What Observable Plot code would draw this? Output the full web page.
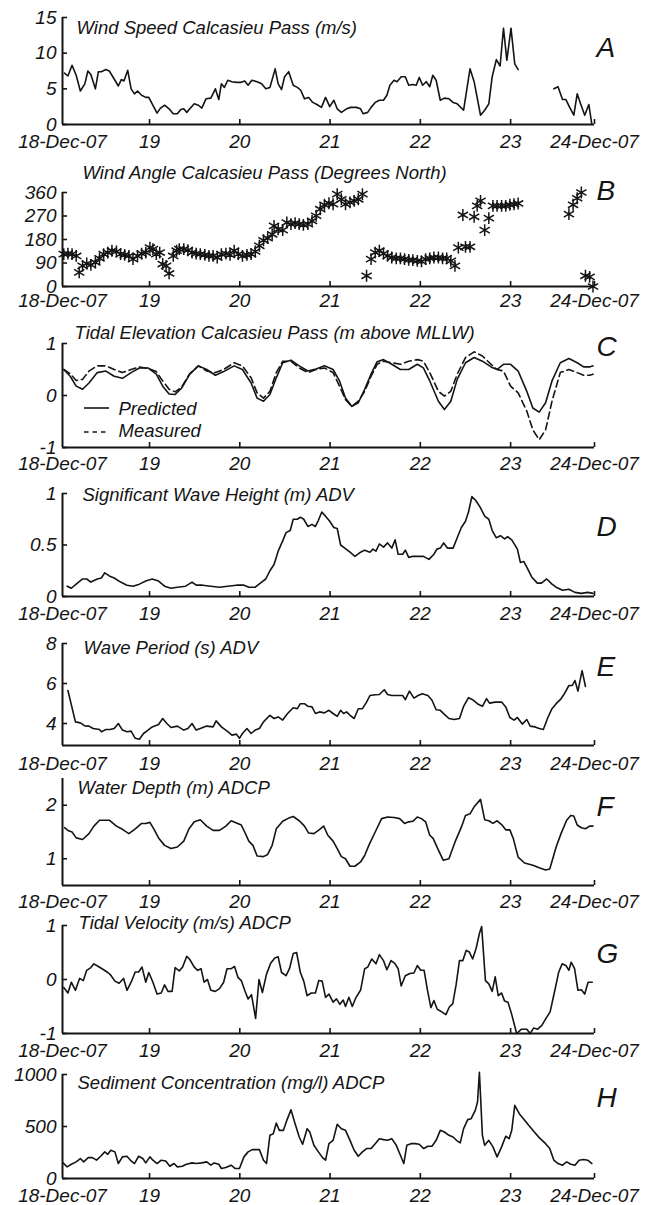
<!DOCTYPE html>
<html><head><meta charset="utf-8">
<script src="https://cdn.jsdelivr.net/npm/d3@7"></script>
<script src="https://cdn.jsdelivr.net/npm/@observablehq/plot@0.6"></script>
<style>
html,body{margin:0;padding:0;background:#fff;}
#fig{position:relative;width:657px;height:1205px;overflow:hidden;}
#fig svg{position:absolute;left:0;}
</style></head><body><div id="fig"></div>
<script>
// ---- x axis (hours since 18-Dec-07 00:00) ----
const xTickHours = [0.86, 24, 48, 72, 96, 120, 142.3];
const xTickLabels = ["18-Dec-07", "19", "20", "21", "22", "23", "24-Dec-07"];

// ---- A: wind speed (m/s) ----
const windHours = [1.4,2.3,3.4,4.5,5.6,6.8,7.6,8.4,9.6,10.4,11.2,12.4,13.3,14.0,14.8,15.7,16.5,17.2,18.2,19.1,20.0,20.8,21.9,23.0,23.8,24.7,26.0,26.9,28.0,29.2,30.3,31.4,32.3,33.1,33.9,34.7,35.9,37.0,37.9,39.0,40.3,41.5,42.4,43.1,43.9,44.8,45.9,47.1,48.2,49.3,50.2,51.2,52.6,53.8,54.9,56.0,57.4,58.2,59.1,59.9,61.0,62.2,63.3,64.2,65.2,66.3,67.4,68.5,69.7,70.8,71.9,73.0,73.9,75.0,76.4,77.5,79.0,80.1,80.8,82.0,82.9,84.0,85.1,86.2,87.1,87.9,89.0,89.8,90.9,92.0,92.9,94.0,94.9,95.7,96.6,97.6,98.5,99.3,100.2,101.3,102.4,103.6,104.7,105.8,107.5,109.2,110.3,112.0,113.1,114.2,115.1,116.2,117.2,118.1,119.0,120.1,121.1,122.0,126,131.5,132.6,133.8,134.7,135.7,136.8,137.7,138.6,139.7,140.8,141.6];
const windSpeed = [7.2,6.8,8.3,6.9,4.7,5.7,7.5,7.0,5.0,7.4,7.4,7.7,7.5,6.9,6.2,5.4,6.3,6.1,7.6,5.0,4.3,4.7,4.1,3.8,3.8,2.9,1.6,2.3,2.7,2.2,1.5,1.5,2.1,2.2,1.7,2.2,2.9,2.7,2.3,3.6,3.7,5.0,3.5,5.7,5.2,6.2,6.0,5.9,5.9,6.1,5.5,6.2,6.0,5.7,5.0,5.2,7.8,5.7,4.9,6.7,7.4,5.5,5.2,4.8,3.6,3.8,3.1,2.8,2.4,3.8,2.5,3.4,2.2,1.7,2.2,2.4,2.4,2.2,1.5,1.7,2.4,3.1,3.4,3.4,4.1,5.5,6.2,6.0,6.7,6.7,5.5,5.6,5.5,6.6,5.5,6.0,5.3,6.9,6.2,3.4,3.7,3.6,3.1,2.9,2.0,7.8,6.0,1.3,2.0,2.9,6.7,9.1,8.2,13.5,9.0,13.5,8.5,7.7,null,5.0,5.3,3.5,3.5,2.4,1.3,4.3,2.9,1.3,2.8,0];

// ---- B: wind angle (degrees north) ----
const angleHours = [1.2,2.3,3.4,4.5,5.3,6.2,7.3,8.4,9.6,10.7,11.8,12.9,14.0,15.2,16.3,17.4,18.5,19.6,20.8,21.9,23.0,24.1,24.9,25.8,26.7,27.5,28.4,29.2,30.3,31.2,31.9,33.1,34.2,35.3,36.4,37.5,38.7,39.8,40.9,42.0,43.1,44.3,45.4,46.5,47.6,48.7,49.9,51.0,52.1,53.2,54.3,55.4,56.6,57.1,58.2,59.4,60.5,61.6,62.7,63.8,64.9,66.1,67.2,68.3,69.4,70.5,71.7,72.8,73.9,75.0,76.1,77.3,78.4,79.5,80.6,81.7,82.9,84.0,85.1,86.2,87.3,88.4,89.6,90.7,91.8,92.9,94.0,95.2,96.3,97.4,98.5,99.6,100.8,101.9,103.0,104.1,105.2,106.1,107.3,108.0,109.2,110.3,111.1,112.0,113.1,114.2,115.3,116.4,117.6,118.7,119.8,120.9,122.0,135.5,136.6,137.7,138.8,139.9,141.0,141.9];
const windAngle = [124,126,124,117,54,79,88,83,92,108,124,130,137,134,124,121,117,105,117,126,130,149,143,124,130,86,79,50,117,137,143,143,139,130,126,124,121,117,117,111,124,126,121,137,124,117,121,124,134,156,177,185,200,232,219,216,245,239,243,239,236,239,251,271,296,313,319,315,354,334,315,322,328,334,354,41,105,130,137,126,117,111,108,108,105,102,101,98,96,105,108,111,111,108,108,98,79,149,274,152,152,267,309,328,216,262,309,309,309,309,313,315,318,277,313,338,360,41,37,0];

// ---- C: tidal elevation (m above MLLW) ----
const tideHours = [1.2,2.9,4.5,6.2,7.9,10.1,12.4,14.6,16.8,19.1,21.3,23.6,25.8,27.5,29.2,30.8,32.5,34.7,37.0,39.2,41.5,43.7,46.5,48.7,51.0,52.6,54.3,56.0,57.7,59.4,61.6,63.8,66.1,68.3,70.5,72.8,74.5,76.1,77.8,79.5,81.2,82.9,84.5,86.2,88.4,90.7,92.9,95.2,96.8,98.5,100.8,102.4,104.1,105.8,108.0,110.3,112.5,114.8,116.4,118.1,120.0,122.0,124.3,125.9,127.6,129.3,131.0,133.2,135.5,137.7,139.4,141.0,141.9];
const tidePredicted = [0.50,0.37,0.18,0.12,0.24,0.44,0.47,0.37,0.33,0.44,0.53,0.53,0.41,0.18,0.03,0.02,0.14,0.41,0.57,0.50,0.39,0.46,0.57,0.50,0.24,-0.05,-0.11,0.02,0.34,0.63,0.68,0.57,0.47,0.51,0.57,0.50,0.28,-0.05,-0.21,-0.14,0.12,0.41,0.65,0.69,0.60,0.50,0.50,0.60,0.53,0.28,-0.11,-0.27,-0.11,0.31,0.63,0.73,0.66,0.55,0.50,0.60,0.60,0.47,0.08,-0.24,-0.32,-0.14,0.28,0.63,0.71,0.63,0.55,0.55,0.57];
const tideMeasured = [0.50,0.42,0.29,0.31,0.47,0.57,0.57,0.50,0.44,0.50,0.55,0.52,0.46,0.28,0.12,0.07,0.16,0.42,0.57,0.47,0.44,0.50,0.63,0.57,0.34,0.05,-0.05,0.08,0.44,0.66,0.66,0.53,0.44,0.50,0.53,0.44,0.18,-0.08,-0.21,-0.11,0.08,0.37,0.60,0.66,0.63,0.60,0.66,0.69,0.66,0.44,0.08,-0.01,0.08,0.41,0.73,0.84,0.76,0.60,0.50,0.47,0.18,0.05,-0.30,-0.66,-0.85,-0.66,-0.11,0.44,0.50,0.44,0.39,0.39,0.41];
const tideSeries = ["Predicted", "Measured"];

// ---- D: significant wave height (m) ----
const waveHours = [2.1,3.2,4.5,6.2,7.3,8.4,10.1,11.2,12.1,13.3,14.6,16.3,18.0,19.6,21.3,23.0,24.7,26.4,28.0,29.7,31.4,33.6,35.3,36.4,38.1,40.3,42.6,44.8,47.1,49.1,50.4,52.1,53.8,54.9,56.0,57.1,58.2,59.4,60.3,61.4,62.2,63.3,64.1,65.0,66.1,67.2,68.1,68.9,69.8,70.8,71.9,73.0,73.9,74.8,75.9,77.3,78.6,80.1,81.2,82.6,83.4,84.2,85.1,86.2,87.3,88.4,89.3,90.1,91.3,92.0,92.9,94.0,95.7,96.8,98.3,99.6,100.4,101.3,102.2,103.2,104.7,105.8,106.9,108.0,108.8,109.7,110.8,112.0,113.1,114.2,115.1,116.2,117.3,118.4,119.2,120.3,121.8,122.6,123.5,124.5,125.6,127.1,128.2,129.6,131.0,132.1,133.8,135.5,137.1,138.8,140.5,141.9];
const waveHeight = [0.10,0.08,0.12,0.17,0.17,0.14,0.17,0.18,0.23,0.20,0.18,0.14,0.11,0.10,0.12,0.15,0.17,0.15,0.10,0.08,0.09,0.10,0.14,0.11,0.11,0.10,0.09,0.10,0.11,0.11,0.09,0.09,0.14,0.17,0.25,0.31,0.44,0.54,0.62,0.64,0.75,0.75,0.77,0.75,0.68,0.70,0.68,0.74,0.82,0.78,0.73,0.67,0.66,0.50,0.47,0.43,0.39,0.43,0.45,0.43,0.46,0.44,0.51,0.48,0.52,0.47,0.55,0.41,0.41,0.45,0.38,0.39,0.39,0.39,0.36,0.41,0.46,0.47,0.52,0.47,0.47,0.57,0.67,0.73,0.82,0.97,0.93,0.86,0.78,0.75,0.64,0.57,0.59,0.56,0.58,0.55,0.46,0.33,0.34,0.27,0.19,0.13,0.13,0.17,0.12,0.09,0.06,0.07,0.04,0.03,0.04,0.03];

// ---- E: wave period (s) ----
const periodHours = [2.3,4.3,5.6,6.8,7.9,9.0,10.7,11.2,12.4,13.5,14.6,15.7,16.8,18.0,19.1,20.2,21.3,22.4,23.6,24.7,26.4,27.5,28.6,29.7,31.4,33.1,34.2,35.3,36.4,37.5,39.2,40.9,41.7,43.1,44.8,45.9,47.1,47.9,48.7,49.9,51.0,52.1,53.2,54.3,56.0,57.1,58.2,59.4,60.7,62.2,63.3,64.1,65.2,66.1,67.2,68.1,69.2,70.5,71.7,72.8,73.9,74.8,75.6,76.4,77.3,78.4,79.5,80.6,81.7,82.6,84.0,85.1,86.4,87.3,88.4,89.8,91.3,92.0,93.1,94.3,95.4,96.5,98.0,99.1,100.2,101.3,102.4,103.6,105.0,106.4,107.5,108.8,109.9,111.4,112.5,113.6,114.4,115.9,117.6,118.7,119.8,120.9,121.8,123.1,124.3,125.2,126.5,127.6,128.7,129.9,131.0,132.1,133.2,134.3,135.5,136.4,137.1,137.9,139.0,139.9];
const wavePeriod = [5.65,4.08,4.03,3.88,3.87,3.75,3.70,3.59,3.70,3.70,3.75,4.00,3.67,3.59,3.62,3.26,3.21,3.50,3.67,3.83,3.95,4.25,4.00,3.80,3.87,3.67,3.75,4.00,3.67,3.75,3.87,3.83,4.13,3.83,3.59,3.42,3.47,3.26,3.50,3.75,3.50,3.67,3.75,4.08,4.41,4.25,4.33,4.17,4.50,4.79,4.74,4.99,4.99,4.86,4.83,4.50,4.58,4.53,4.66,4.50,4.36,4.66,4.50,4.58,4.41,4.25,4.74,4.74,5.07,5.40,5.44,5.45,5.69,5.45,5.40,5.40,5.40,5.19,5.62,5.27,5.40,5.49,5.40,5.16,4.69,4.66,4.46,4.25,4.20,4.25,4.86,5.29,5.19,4.96,4.86,5.24,5.02,5.07,5.07,4.83,4.30,4.17,4.30,3.97,4.20,3.87,3.83,3.75,3.70,4.30,4.74,4.99,5.19,5.49,5.90,5.90,6.15,5.62,6.64,5.85];

// ---- F: water depth (m) ----
const depthHours = [1.4,2.3,3.4,4.5,6.2,7.9,9.2,10.7,13.3,15.2,16.8,18.5,20.2,21.9,23.0,24.1,25.2,26.4,28.0,29.7,31.4,33.1,34.5,35.9,37.5,39.2,40.9,42.6,44.3,45.7,47.1,48.4,49.3,50.4,51.5,52.6,54.3,55.4,56.6,57.7,59.4,61.0,62.2,63.8,65.2,66.3,67.7,68.9,70.3,71.4,72.8,73.9,75.0,76.1,77.3,78.6,80.1,81.2,82.3,84.0,85.7,87.3,89.0,90.5,91.8,92.9,94.0,95.2,96.3,97.4,98.5,99.4,100.8,102.1,103.6,105.2,106.9,108.0,109.2,110.3,112.0,113.1,114.2,115.3,116.4,117.6,118.7,119.8,120.7,122.0,123.7,125.9,127.6,129.3,130.4,131.2,132.1,133.4,134.9,136.0,136.8,137.7,138.8,139.9,141.0,141.9];
const waterDepth = [1.58,1.53,1.50,1.39,1.36,1.47,1.61,1.72,1.72,1.61,1.55,1.47,1.56,1.66,1.66,1.68,1.55,1.39,1.25,1.19,1.22,1.33,1.56,1.69,1.73,1.61,1.53,1.53,1.61,1.71,1.67,1.63,1.50,1.33,1.25,1.05,1.04,1.08,1.25,1.56,1.70,1.76,1.79,1.71,1.61,1.48,1.47,1.53,1.61,1.44,1.33,1.19,1.04,1.00,0.86,0.86,0.94,1.06,1.25,1.50,1.75,1.78,1.77,1.75,1.66,1.69,1.70,1.78,1.75,1.69,1.44,1.38,1.16,0.97,1.00,1.31,1.59,1.81,1.84,1.97,2.11,1.73,1.71,1.66,1.71,1.64,1.54,1.54,1.38,1.03,0.92,0.88,0.83,0.79,0.81,1.00,1.22,1.47,1.72,1.81,1.80,1.63,1.58,1.56,1.61,1.61];

// ---- G: tidal velocity (m/s) ----
const velocityHours = [1.2,2.3,3.2,4.3,5.4,6.4,7.3,8.4,9.2,10.4,11.8,12.9,13.7,14.8,15.9,17.1,18.0,19.1,20.2,21.1,22.0,23.0,23.8,24.9,26.0,27.1,28.0,28.9,30.0,30.8,31.9,32.8,33.9,34.7,35.9,36.8,37.7,38.5,39.4,40.3,41.5,42.6,43.7,44.6,45.7,46.6,47.5,48.4,49.3,50.2,51.1,52.2,53.1,54.0,55.1,56.2,57.3,58.2,59.1,60.3,61.2,62.2,63.1,64.1,65.0,65.9,67.0,68.1,69.0,69.9,70.8,71.7,72.8,73.7,74.6,75.5,76.1,77.0,77.9,78.9,80.1,81.2,82.0,83.1,84.2,85.1,86.2,87.1,88.2,89.2,90.1,90.9,92.0,93.2,94.3,95.2,96.1,97.0,97.9,98.8,99.6,100.5,101.7,102.8,103.7,104.6,105.5,106.4,107.3,108.2,109.0,109.9,110.8,111.7,112.3,113.3,114.2,115.1,115.9,116.7,117.6,118.4,119.3,120.3,121.6,122.9,124.3,125.2,126.1,127.2,128.3,129.4,130.5,131.6,132.8,133.7,134.7,135.5,136.1,137.0,137.9,138.8,139.7,140.6,141.7];
const tidalVelocity = [-0.15,-0.25,-0.05,-0.2,0.02,-0.02,0.17,0.22,0.29,0.24,0.18,0.13,0.08,-0.03,-0.07,0.02,-0.2,-0.05,0.14,0.14,0.23,-0.05,0.13,-0.05,-0.27,-0.25,-0.1,-0.22,-0.22,0.22,0.16,0.23,0.43,0.37,0.23,0.17,0.2,-0.05,0.0,-0.2,-0.22,-0.17,-0.05,0.2,0.2,0.24,0.04,-0.02,-0.2,-0.36,-0.28,-0.72,0.0,-0.24,0.1,0.3,0.4,0.42,0.13,0.07,0.2,0.48,0.5,0.13,-0.03,-0.3,-0.25,-0.25,-0.02,-0.03,-0.33,-0.27,-0.42,-0.36,-0.46,-0.38,-0.5,-0.33,-0.5,-0.33,-0.2,0.2,0.23,0.38,0.29,0.46,0.35,0.18,0.35,0.3,0.2,-0.12,0.07,0.11,0.12,0.26,0.17,0.17,-0.2,-0.52,-0.39,-0.55,-0.6,-0.65,-0.51,-0.45,-0.1,0.35,0.35,0.54,0.51,0.38,0.57,0.85,0.98,-0.02,-0.08,-0.22,0.05,-0.3,-0.25,-0.4,-0.42,-0.65,-1.0,-0.92,-0.92,-1.0,-0.9,-0.92,-0.85,-0.72,-0.6,-0.25,0.14,0.29,0.26,0.17,0.32,0.2,-0.2,-0.19,-0.27,-0.05,-0.05];

// ---- H: sediment concentration (mg/l) ----
const sedimentHours = [1.0,2.1,3.2,4.5,5.6,6.5,7.7,8.8,9.9,11.0,12.1,12.9,13.7,14.8,15.7,16.8,18.0,19.1,20.0,21.1,22.2,23.0,24.1,24.9,26.0,27.1,28.3,29.4,30.5,31.4,32.7,33.8,35.3,36.4,37.9,39.2,40.3,41.2,42.4,43.1,44.3,45.7,46.8,47.9,49.1,50.2,51.3,52.4,53.2,54.3,55.1,56.0,56.9,57.7,58.5,59.6,60.5,61.6,62.7,63.8,64.7,65.9,66.6,67.7,68.9,70.0,70.8,71.7,72.8,73.9,75.0,76.1,77.3,78.4,79.5,80.6,81.7,82.9,84.0,85.1,86.2,87.3,88.4,89.6,90.7,91.6,92.4,93.5,94.6,95.7,96.9,98.0,99.1,100.2,101.3,102.4,103.6,104.7,105.8,106.6,107.5,108.6,109.5,110.6,111.2,111.7,112.5,113.1,114.2,115.3,116.4,117.6,118.7,119.6,120.3,121.1,122.3,123.4,124.8,126.3,127.6,129.3,130.4,131.5,132.6,133.8,134.9,136.0,137.1,138.2,139.4,140.5,141.6];
const sediment = [150,112,137,160,192,160,201,201,176,214,256,233,272,256,144,208,214,169,144,214,192,150,208,176,144,176,169,118,144,112,118,137,150,144,150,160,128,150,137,96,105,128,96,96,208,256,278,278,278,176,144,415,431,534,463,463,559,661,527,399,329,479,447,319,256,201,176,335,367,521,479,463,367,272,214,256,288,288,335,383,374,367,383,319,224,144,319,335,335,329,288,310,310,367,463,447,415,399,361,342,479,566,575,655,735,1022,415,319,367,304,208,304,406,383,463,703,623,575,511,447,393,335,288,176,144,128,160,137,128,176,182,176,144];

// ---- panel titles ----
const panelLetters = ["A","B","C","D","E","F","G","H"];
const panelTitles = [
  "Wind Speed Calcasieu Pass (m/s)",
  "Wind Angle Calcasieu Pass (Degrees North)",
  "Tidal Elevation Calcasieu Pass (m above MLLW)",
  "Significant Wave Height (m) ADV",
  "Wave Period (s) ADV",
  "Water Depth (m) ADCP",
  "Tidal Velocity (m/s) ADCP",
  "Sediment Concentration (mg/l) ADCP"
];
const yDomains = [[0,15],[0,360],[-1,1],[0,1],[2.9,8],[0.5,2.5],[-1,1],[0,1000]];
const yTicks = [[0,5,10,15],[0,90,180,270,360],[-1,0,1],[0,0.5,1],[4,6,8],[1,2],[-1,0,1],[0,500,1000]];

// ---------------- drawing ----------------
const rows = (hs, vs) => hs.map((h, i) => ({h, v: vs[i]}));
const INK = "#141414";
const FONT = '"Liberation Sans", Arial, Helvetica, sans-serif';
const xLabel = new Map(xTickHours.map((h, i) => [h, xTickLabels[i]]));
const X0 = xTickHours[0], X1 = xTickHours[xTickHours.length - 1];
const lineOpts = {x: "h", y: "v", stroke: INK, strokeWidth: 1.6};

// layout (pixel frame top/bottom of each panel, label offsets)
const layout = [
  {top: 17,   bottom: 124,  pad: 10, titleX: 76, titleY: 28,    letterY: 48},
  {top: 192,  bottom: 286,  pad: 7,  titleX: 82, titleY: 173,   letterY: 191},
  {top: 343,  bottom: 447,  pad: 9,  titleX: 74, titleY: 333,   letterY: 347},
  {top: 493,  bottom: 596,  pad: 10, titleX: 82, titleY: 495,   letterY: 527},
  {top: 643,  bottom: 745,  pad: 11, titleX: 83, titleY: 648,   letterY: 667},
  {top: 778,  bottom: 885,  pad: 9,  titleX: 77, titleY: 788,   letterY: 807},
  {top: 925,  bottom: 1033, pad: 10, titleX: 78, titleY: 923,   letterY: 954},
  {top: 1074, bottom: 1178, pad: 10, titleX: 77, titleY: 1083,  letterY: 1098}
];

const dataMarks = [
  [Plot.line(rows(windHours, windSpeed), lineOpts)],
  [Plot.dot(rows(angleHours, windAngle), {x: "h", y: "v", symbol: "asterisk", r: 5.6, stroke: INK, strokeWidth: 1.5})],
  [Plot.line(rows(tideHours, tidePredicted), lineOpts),
   Plot.line(rows(tideHours, tideMeasured), {...lineOpts, strokeDasharray: "7,4"})],
  [Plot.line(rows(waveHours, waveHeight), lineOpts)],
  [Plot.line(rows(periodHours, wavePeriod), lineOpts)],
  [Plot.line(rows(depthHours, waterDepth), lineOpts)],
  [Plot.line(rows(velocityHours, tidalVelocity), lineOpts)],
  [Plot.line(rows(sedimentHours, sediment), lineOpts)]
];

const fig = document.getElementById("fig");
const ML = 62, MR = 63, MT = 60, MB = 36;
const legendY = [409, 431];

layout.forEach((L, k) => {
  const dom = yDomains[k];
  const marks = [
    Plot.ruleX([X0], {stroke: INK, strokeWidth: 2}),
    Plot.ruleY([dom[0]], {stroke: INK, strokeWidth: 2}),
    Plot.axisY({ticks: yTicks[k], tickSize: -5, tickFormat: () => "", label: null, stroke: INK, strokeWidth: 1.6}),
    Plot.axisY({ticks: yTicks[k], tickSize: 0, tickPadding: 6, tickFormat: d => String(d), label: null, fontSize: 19, fill: INK}),
    Plot.axisX({ticks: xTickHours.slice(1), tickSize: -5, tickFormat: () => "", label: null, stroke: INK, strokeWidth: 1.6}),
    Plot.axisX({ticks: xTickHours, tickSize: 0, tickPadding: L.pad, tickFormat: d => xLabel.get(d), label: null, fontSize: 19, fill: INK}),
    ...dataMarks[k],
    Plot.text([panelTitles[k]], {text: d => d, frameAnchor: "top-left", dx: L.titleX - ML, dy: L.titleY - L.top, textAnchor: "start", lineAnchor: "middle", fontSize: 18.5, fill: INK}),
    Plot.text([panelLetters[k]], {text: d => d, frameAnchor: "top-left", dx: 596 - ML, dy: L.letterY - L.top, textAnchor: "start", lineAnchor: "middle", fontSize: 28, fill: INK})
  ];
  if (k === 2) {
    tideSeries.forEach((name, i) => {
      marks.push(Plot.text([name], {text: d => d, frameAnchor: "top-left", dx: 118 - ML, dy: legendY[i] - L.top, textAnchor: "start", lineAnchor: "middle", fontSize: 18.5, fill: INK}));
    });
  }
  const svg = Plot.plot({
    width: 657,
    height: L.bottom - L.top + MT + MB,
    marginLeft: ML, marginRight: MR, marginTop: MT, marginBottom: MB,
    x: {domain: [X0, X1]},
    y: {domain: dom},
    style: {fontFamily: FONT, fontStyle: "italic", fontSize: "19px", background: "transparent", color: INK, overflow: "visible"},
    marks
  });
  svg.style.top = (L.top - MT) + "px";
  fig.appendChild(svg);
  // drop the empty tick-only labels
  d3.select(svg).selectAll("text").filter(function() { return this.textContent.trim() === ""; }).remove();

  if (k === 2) {
    // legend line samples for panel C
    const off = L.top - MT;
    const g = d3.select(svg).append("g").attr("stroke", INK).attr("stroke-width", 1.6);
    g.append("line").attr("x1", 84).attr("x2", 109).attr("y1", 408 - off).attr("y2", 408 - off);
    g.append("line").attr("x1", 84).attr("x2", 109).attr("y1", 432 - off).attr("y2", 432 - off).attr("stroke-dasharray", "4.5,4");
  }
});
</script></body></html>
